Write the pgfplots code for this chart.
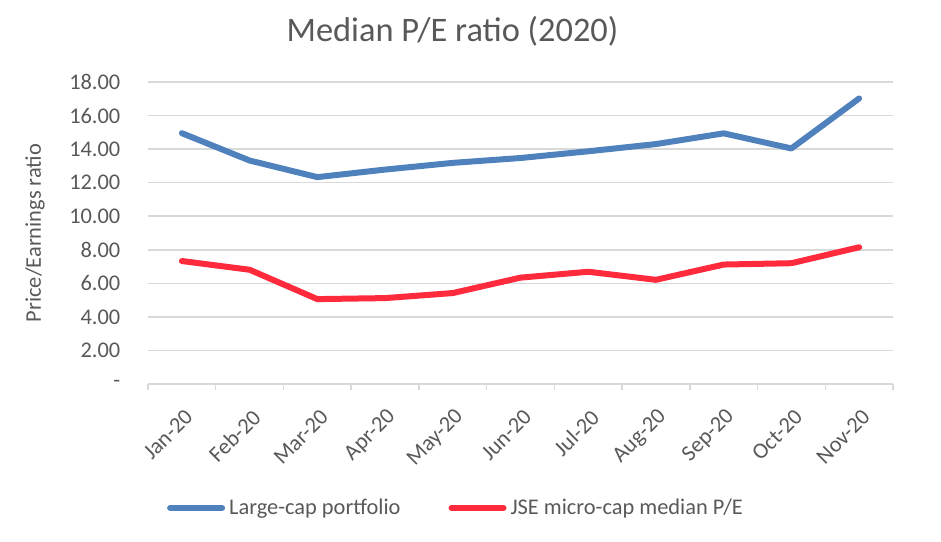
\documentclass[border=0pt]{standalone}
\usepackage{fontspec}
\setmainfont{Carlito}
\usepackage{pgfplots}
\pgfplotsset{compat=1.18}
\definecolor{txt}{HTML}{595959}
\definecolor{gridc}{HTML}{D9D9D9}
\definecolor{lcblue}{HTML}{4F81BD}
\definecolor{mcred}{HTML}{FF2B3D}

\begin{document}
\begin{tikzpicture}
\path[use as bounding box] (-74pt,-78.5pt) rectangle (396.5pt,192pt);
\begin{axis}[
  at={(0pt,0pt)}, anchor=south west,
  scale only axis, width=372.5pt, height=151pt,
  xmin=-0.5, xmax=10.5, ymin=0, ymax=18,
  xtick={0,...,10},
  xticklabels={Jan-20,Feb-20,Mar-20,Apr-20,May-20,Jun-20,Jul-20,Aug-20,Sep-20,Oct-20,Nov-20},
  ytick={0,2,...,18},
  yticklabels={{-\hspace{5pt}},2.00,4.00,6.00,8.00,10.00,12.00,14.00,16.00,18.00},
  ymajorgrids, grid style={gridc, line width=0.75pt},
  axis x line*=bottom, axis y line*=left,
  x axis line style={gridc, line width=0.75pt, -},
  y axis line style={draw=none},
  major tick length=0pt,
  extra x ticks={-0.5,0.5,...,10.5}, extra x tick labels={},
  extra x tick style={major tick length=3pt, tick align=outside, tick style={gridc, line width=0.75pt}, grid=none},
  tick label style={font=\fontsize{11.2}{13}\selectfont, text=txt},
  xticklabel style={rotate=45, anchor=east, xshift=-4.5pt, yshift=-13pt},
  yticklabel style={anchor=east, xshift=-10.3pt},
  ylabel={Price/Earnings ratio},
  ylabel style={at={(axis description cs:-0.1517,0.5)}, anchor=center, font=\fontsize{11.2}{13}\selectfont, text=txt},
  legend style={at={(axis description cs:0.4148,-0.41)}, anchor=center, draw=none, fill=none,
    legend columns=2, font=\fontsize{11.2}{13}\selectfont, text=txt,
    /tikz/every even column/.append style={column sep=22pt}},
  legend image code/.code={\draw[#1, line cap=round] (0pt,0pt) -- (26pt,0pt);},
  every axis plot/.append style={line width=3pt, line cap=round, line join=round, mark=none},
]
\addplot[lcblue] coordinates {
(0,14.95) (1,13.32) (2,12.33) (3,12.78) (4,13.18) (5,13.47)
(6,13.87) (7,14.30) (8,14.94) (9,14.04) (10,17.02)
};
\addlegendentry{Large-cap portfolio}
\addplot[mcred] coordinates {
(0,7.33) (1,6.81) (2,5.06) (3,5.12) (4,5.42) (5,6.34)
(6,6.69) (7,6.21) (8,7.12) (9,7.20) (10,8.15)
};
\addlegendentry{JSE micro-cap median P/E}
\end{axis}
\node[font=\fontsize{17.2}{20}\selectfont, text=txt] at (152.25pt,176.5pt) {Median P/E ratio (2020)};
\end{tikzpicture}
\end{document}
